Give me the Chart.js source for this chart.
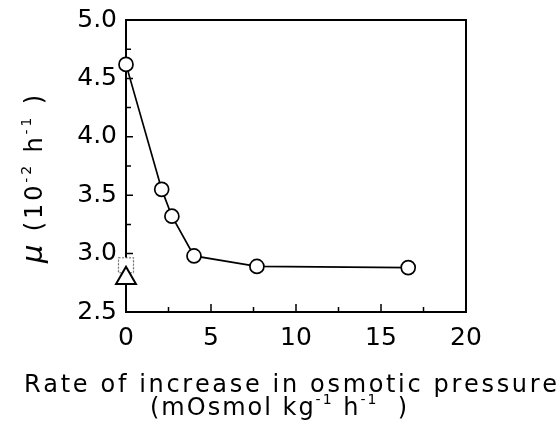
<!DOCTYPE html>
<html>
<head>
<meta charset="utf-8">
<script src="https://cdn.jsdelivr.net/npm/chart.js@4/dist/chart.umd.min.js"></script>
<style>
  html, body { margin: 0; padding: 0; background: #fff; }
  #wrap { width: 560px; height: 430px; }
</style>
</head>
<body>
<div id="wrap"><canvas id="muChart" width="560" height="430"></canvas></div>
<script>
// data
const rateX = [0, 2.1, 2.7, 4.0, 7.7, 16.6];
const muY = [4.62, 3.55, 3.32, 2.98, 2.89, 2.88];
const squareX = [0];
const squareY = [2.9];
const triangleX = [0];
const triangleY = [2.79];
const xTicks = [0, 5, 10, 15, 20];
const yTicks = [2.5, 3.0, 3.5, 4.0, 4.5, 5.0];

const FONT = "'DejaVu Sans', Verdana, sans-serif";
const toPts = (xs, ys) => xs.map((x, i) => ({ x, y: ys[i] }));

// dotted grey square used for the open-square marker
const squareImg = document.createElement("canvas");
squareImg.width = 18; squareImg.height = 18;
(function () {
  const c = squareImg.getContext("2d");
  c.fillStyle = "#fff";
  c.fillRect(1, 1, 16, 16);
  c.strokeStyle = "#666";
  c.lineWidth = 1.2;
  c.setLineDash([2, 1.5]);
  c.strokeRect(1.5, 1.5, 15, 15);
})();

// text drawn char by char so the wide letter spacing of the figure can be matched
// parts = [{t, font, dy}]
function richWidth(ctx, parts) {
  let w = 0, n = 0;
  parts.forEach(p => {
    ctx.font = p.font;
    for (const ch of p.t) { w += ctx.measureText(ch).width; n++; }
  });
  return { w, n };
}
function drawRich(ctx, parts, x, y, targetWidth) {
  const { w, n } = richWidth(ctx, parts);
  const spacing = (targetWidth - w) / (n - 1);
  let cx = x;
  parts.forEach(p => {
    ctx.font = p.font;
    for (const ch of p.t) {
      ctx.fillText(ch, cx, y + (p.dy || 0));
      cx += ctx.measureText(ch).width + spacing;
    }
  });
}

const framePlugin = {
  id: "frame",
  beforeDatasetsDraw(chart) {
    const { ctx, chartArea: a, scales } = chart;
    ctx.save();
    ctx.strokeStyle = "#000";
    ctx.lineWidth = 2;
    ctx.strokeRect(a.left, a.top, a.right - a.left, a.bottom - a.top);
    ctx.lineWidth = 1.5;
    ctx.beginPath();
    // x ticks, pointing inward
    for (let i = 0; i < xTicks.length; i++) {
      const px = scales.x.getPixelForValue(xTicks[i]);
      if (i > 0 && i < xTicks.length - 1) {
        ctx.moveTo(px, a.bottom); ctx.lineTo(px, a.bottom - 8);
      }
      if (i < xTicks.length - 1) {
        const mx = scales.x.getPixelForValue((xTicks[i] + xTicks[i + 1]) / 2);
        ctx.moveTo(mx, a.bottom); ctx.lineTo(mx, a.bottom - 5);
      }
    }
    // y ticks
    for (let i = 0; i < yTicks.length; i++) {
      const py = scales.y.getPixelForValue(yTicks[i]);
      if (i > 0 && i < yTicks.length - 1) {
        ctx.moveTo(a.left, py); ctx.lineTo(a.left + 7, py);
      }
      if (i < yTicks.length - 1) {
        const my = scales.y.getPixelForValue((yTicks[i] + yTicks[i + 1]) / 2);
        ctx.moveTo(a.left, my); ctx.lineTo(a.left + 5, my);
      }
    }
    ctx.stroke();
    ctx.restore();
  },
  afterDraw(chart) {
    const ctx = chart.ctx;
    ctx.save();
    ctx.fillStyle = "#000";
    ctx.textBaseline = "alphabetic";
    ctx.textAlign = "left";
    const big = "24px " + FONT;
    const sup = "14px " + FONT;

    drawRich(ctx, [{ t: "Rate of increase in osmotic pressure", font: big }], 24, 392, 533);
    drawRich(ctx, [
      { t: "(mOsmol kg", font: big },
      { t: "-1", font: sup, dy: -11 },
      { t: " h", font: big },
      { t: "-1", font: sup, dy: -11 },
      { t: "  )", font: big }
    ], 150, 415, 257);

    ctx.translate(42, 263);
    ctx.rotate(-Math.PI / 2);
    drawRich(ctx, [
      { t: "\u03bc", font: "italic 29px " + FONT },
      { t: " (10", font: big },
      { t: "-2", font: sup, dy: -11 },
      { t: " h", font: big },
      { t: "-1", font: sup, dy: -11 },
      { t: " )", font: big }
    ], 0, 0, 168);
    ctx.restore();
  }
};

new Chart(document.getElementById("muChart"), {
  type: "line",
  data: {
    datasets: [
      {
        label: "triangle",
        data: toPts(triangleX, triangleY),
        showLine: false,
        pointStyle: "triangle",
        pointRadius: 11.5,
        pointBackgroundColor: "#fff",
        pointBorderColor: "#000",
        pointBorderWidth: 2,
        clip: false
      },
      {
        label: "square",
        data: toPts(squareX, squareY),
        showLine: false,
        pointStyle: squareImg,
        clip: false
      },
      {
        label: "mu",
        data: toPts(rateX, muY),
        borderColor: "#000",
        borderWidth: 1.7,
        tension: 0,
        pointStyle: "circle",
        pointRadius: 7,
        pointBackgroundColor: "#fff",
        pointBorderColor: "#000",
        pointBorderWidth: 1.7,
        clip: false
      }
    ]
  },
  options: {
    responsive: false,
    animation: false,
    layout: { padding: { left: 0, top: 20, right: 94, bottom: 0 } },
    plugins: { legend: { display: false }, tooltip: { enabled: false } },
    scales: {
      x: {
        type: "linear",
        min: 0, max: 20,
        afterFit: s => { s.height = 118; s.paddingLeft = 0; s.paddingRight = 0; },
        afterBuildTicks: s => { s.ticks = xTicks.map(v => ({ value: v })); },
        grid: { display: false, drawTicks: false },
        border: { display: false },
        ticks: { color: "#000", font: { family: FONT, size: 25 }, padding: 11, maxRotation: 0 }
      },
      y: {
        type: "linear",
        min: 2.5, max: 5.0,
        afterFit: s => { s.width = 126; s.paddingTop = 0; s.paddingBottom = 0; },
        afterBuildTicks: s => { s.ticks = yTicks.map(v => ({ value: v })); },
        grid: { display: false, drawTicks: false },
        border: { display: false },
        ticks: {
          color: "#000", font: { family: FONT, size: 25 }, padding: 9,
          callback: v => Number(v).toFixed(1)
        }
      }
    }
  },
  plugins: [framePlugin]
});
</script>
</body>
</html>
